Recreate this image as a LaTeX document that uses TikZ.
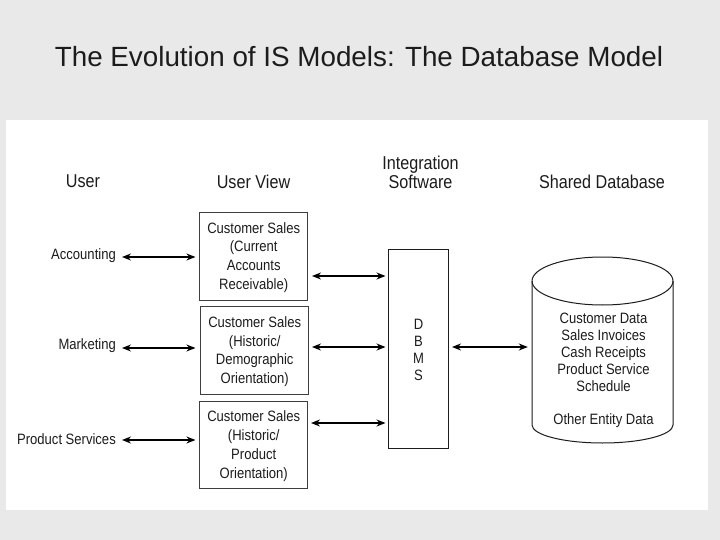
\documentclass[tikz,border=0pt]{standalone}
\usepackage{fontspec}
\setmainfont{Liberation Sans}
\newfontfamily\diagf[FakeStretch=0.87]{Liberation Sans}
\usetikzlibrary{arrows.meta}
\definecolor{pagebg}{HTML}{E9E9E9}
\definecolor{ink}{HTML}{1C1C1C}
\tikzset{
  lbl/.style={text=ink,inner sep=0pt,align=center,font=\diagf\fontsize{15}{18.7}\selectfont},
  head/.style={text=ink,inner sep=0pt,align=center,font=\diagf\fontsize{18.6}{18.6}\selectfont},
  viewbox/.style={lbl,draw=ink!85,line width=1pt,minimum width=108.5pt,minimum height=87.5pt},
  link/.style={{Stealth[length=9pt,width=7pt]}-{Stealth[length=9pt,width=7pt]},line width=1.4pt,black},
  shape line/.style={draw=ink,line width=1pt}
}
\begin{document}
\begin{tikzpicture}[x=1pt,y=-1pt]
\useasboundingbox (0,0) rectangle (720,540);
\fill[pagebg] (0,0) rectangle (720,540);
\fill[white] (6,120) rectangle (708,510);
\node[anchor=base,inner sep=0pt,text=ink,font=\fontsize{27.8}{30}\selectfont] (title) at (359,67) {The Evolution of IS Models: The Database Model};
\node[head] (huser) at (83,181) {User};
\node[head] (hview) at (253.5,182) {User View};
\node[head,anchor=south] (hint) at (420.5,188.5) {Integration\\Software};
\node[head] (hdb) at (602,182) {Shared Database};
\node[lbl,anchor=east] (acc) at (116,255.5) {Accounting};
\node[lbl,anchor=east] (mkt) at (116,345.5) {Marketing};
\node[lbl,anchor=east] (prod) at (116,439.5) {Product Services};
\node[viewbox] (b1) at (253.7,256.3) {\rule{0pt}{13pt}Customer Sales\hspace{2pt}\\(Current\hspace{2pt}\\Accounts\\Receivable)};
\node[viewbox] (b2) at (254.7,350.5) {\rule{0pt}{13pt}Customer Sales\\(Historic/\\Demographic\\Orientation)};
\node[viewbox] (b3) at (253.7,445) {\rule{0pt}{13pt}Customer Sales\hspace{2pt}\\(Historic/\\Product\hspace{2pt}\\Orientation)};
\node[lbl,draw=ink,line width=1pt,minimum width=60pt,minimum height=199pt,font=\diagf\fontsize{15}{17}\selectfont] (dbms) at (418.5,348.5) {\rule{0pt}{14pt}D\\B\\M\\S};
\node[minimum width=141pt,minimum height=186pt,inner sep=0pt] (db) at (602.5,350) {};
\path[shape line] (532,281) -- (532,425) arc[start angle=180,end angle=0,x radius=70.5,y radius=18] -- (673,281);
\draw[shape line] (602.5,281) ellipse[x radius=70.5,y radius=24];
\node[lbl] (dbtxt) at (603.5,370) {Customer Data\\[-1.7pt]Sales Invoices\\[-1.7pt]Cash Receipts\\[-1.7pt]Product Service\\[-1.7pt]Schedule\\[14pt]Other Entity Data};
\coordinate (a1) at (122,257);
\coordinate (a2) at (122,348);
\coordinate (a3) at (122,440);
\draw[link] (a1) -- ([xshift=-3.5pt]a1 -| b1.west);
\draw[link] (a2) -- ([xshift=-4.5pt]a2 -| b2.west);
\draw[link] (a3) -- ([xshift=-3.5pt]a3 -| b3.west);
\coordinate (r1) at (312,276);
\coordinate (r2) at (312,347);
\coordinate (r3) at (311,423);
\draw[link] (r1) -- ([xshift=-2.5pt]r1 -| dbms.west);
\draw[link] (r2) -- ([xshift=-2.5pt]r2 -| dbms.west);
\draw[link] (r3) -- ([xshift=-2.5pt]r3 -| dbms.west);
\coordinate (d1) at (452,347);
\draw[link] (d1) -- ([xshift=-4pt]d1 -| db.west);
\end{tikzpicture}
\end{document}
